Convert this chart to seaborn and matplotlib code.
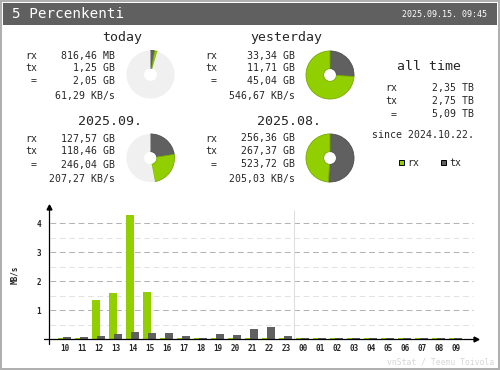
"""vnStat style summary image: totals, donuts and hourly bars."""

import matplotlib
matplotlib.use('Agg')
import matplotlib.pyplot as plt
import seaborn as sns
import numpy as np
import pandas as pd
from matplotlib.patches import Rectangle

# vnStat default colours
RX_COLOR = '#92cf00'
TX_COLOR = '#606060'
RX_EDGE = '#78aa00'
TX_EDGE = '#4e4e4e'
REST_COLOR = '#f0f0f0'
EDGE_COLOR = '#aeaeae'
MONO = 'DejaVu Sans Mono'

interface_name = '5 Percenkenti'
timestamp = '2025.09.15. 09:45'

# summary blocks
block_titles = ['today', 'yesterday', '2025.09.', '2025.08.']
block_rx = ['816,46 MB', '33,34 GB', '127,57 GB', '256,36 GB']
block_tx = ['1,25 GB', '11,71 GB', '118,46 GB', '267,37 GB']
block_total = ['2,05 GB', '45,04 GB', '246,04 GB', '523,72 GB']
block_rate = ['61,29 KB/s', '546,67 KB/s', '207,27 KB/s', '205,03 KB/s']

# same traffic in GB for the donuts, ref = previous period total (full circle)
donut_rx_gb = [0.7973, 33.34, 127.57, 256.36]
donut_tx_gb = [1.25, 11.71, 118.46, 267.37]
donut_ref_gb = [45.04, 45.04, 523.72, 523.72]

alltime_labels = ['rx', 'tx', ' =']
alltime_values = ['2,35 TB', '2,75 TB', '5,09 TB']
alltime_since = 'since 2024.10.22.'

# hourly average rate, MB/s
hours = ['10', '11', '12', '13', '14', '15', '16', '17', '18', '19', '20', '21',
         '22', '23', '00', '01', '02', '03', '04', '05', '06', '07', '08', '09']
hourly_rx = [0.04, 0.04, 1.37, 1.60, 4.29, 1.64, 0.04, 0.04, 0.04, 0.04, 0.04, 0.04,
             0.04, 0.04, 0.04, 0.04, 0.04, 0.04, 0.04, 0.04, 0.04, 0.04, 0.04, 0.04]
hourly_tx = [0.08, 0.08, 0.13, 0.20, 0.25, 0.22, 0.22, 0.13, 0.05, 0.18, 0.15, 0.36,
             0.43, 0.12, 0.04, 0.04, 0.04, 0.04, 0.04, 0.04, 0.04, 0.04, 0.04, 0.04]

# layout of the four blocks, in image pixels
block_title_xy = [(122, 41), (286, 41.5), (110, 125), (289, 125)]
block_label_x = [25, 205, 25, 205]
block_value_x = [115, 295, 115, 295]
block_rows_y = [[59.3, 71, 84.3, 98.7], [59.3, 71, 84.3, 98.7],
                [141.7, 154.3, 167.7, 182], [141.5, 154, 167.5, 182]]
donut_centers = [(150.5, 74.5), (330, 75), (150.5, 158), (330, 158)]
DONUT_R = 24.5
HOLE_R = 6.5

W, H = 500, 370

sns.set_theme(style='white')
plt.rcParams['font.family'] = [MONO, 'DejaVu Sans']

fig = plt.figure(figsize=(W / 100, H / 100), dpi=100)
fig.patch.set_facecolor('white')

# overlay axes in pixel coordinates for header, texts and frame
over = fig.add_axes([0, 0, 1, 1])
over.set_xlim(0, W)
over.set_ylim(H, 0)
over.axis('off')

over.add_patch(Rectangle((0.5, 0.5), W - 1.5, H - 1.5, fill=False,
                         edgecolor=EDGE_COLOR, linewidth=1.4))
over.add_patch(Rectangle((3, 3), 494, 22, facecolor='#606060', edgecolor='none'))
over.text(12, 14.5, interface_name, color='white', fontsize=10.3,
          ha='left', va='center')
over.text(487, 14.5, timestamp, color='white', fontsize=6,
          ha='right', va='center')

for i, title in enumerate(block_titles):
    tx_, ty_ = block_title_xy[i]
    over.text(tx_, ty_, title, fontsize=9.5, ha='center', va='baseline')
    rows = block_rows_y[i]
    for lab, val, y in zip(['rx', 'tx', ' ='],
                           [block_rx[i], block_tx[i], block_total[i]], rows[:3]):
        over.text(block_label_x[i], y, lab, fontsize=7.1, ha='left', va='baseline')
        over.text(block_value_x[i], y, val, fontsize=7.1, ha='right', va='baseline')
    over.text(block_value_x[i], rows[3], block_rate[i], fontsize=7.1,
              ha='right', va='baseline')

# all time block
over.text(429, 70, 'all time', fontsize=9.5, ha='center', va='baseline')
for lab, val, y in zip(alltime_labels, alltime_values, [91, 104, 117.5]):
    over.text(385, y, lab, fontsize=7.1, ha='left', va='baseline')
    over.text(474, y, val, fontsize=7.1, ha='right', va='baseline')
over.text(423.5, 138.3, alltime_since, fontsize=7.1, ha='center', va='baseline')

# legend
for x0, col, edge, lab in [(398.5, RX_COLOR, RX_EDGE, 'rx'),
                           (440.5, TX_COLOR, TX_EDGE, 'tx')]:
    over.add_patch(Rectangle((x0, 159.5), 5.5, 5.5, facecolor=col,
                             edgecolor='black', linewidth=0.7))
    over.text(x0 + 8.5, 166, lab, fontsize=7.1, ha='left', va='baseline')

over.text(494, 362, 'vnStat / Teemu Toivola', color='#d6d6d6', fontsize=5.9,
          ha='right', va='center')
over.text(15, 275, 'MB/s', fontsize=5.5, fontweight='bold', rotation=90,
          ha='center', va='center')

# donuts
for i, (cx, cy) in enumerate(donut_centers):
    pax = fig.add_axes([(cx - DONUT_R) / W, 1 - (cy + DONUT_R) / H,
                        2 * DONUT_R / W, 2 * DONUT_R / H])
    rest = max(donut_ref_gb[i] - donut_rx_gb[i] - donut_tx_gb[i], 0)
    wedges, _ = pax.pie([donut_tx_gb[i], donut_rx_gb[i], rest],
                        colors=[TX_COLOR, RX_COLOR, REST_COLOR],
                        startangle=90, counterclock=False, radius=1,
                        wedgeprops=dict(width=1 - HOLE_R / DONUT_R, linewidth=0))
    for w, ec in zip(wedges, [TX_EDGE, RX_EDGE, REST_COLOR]):
        w.set_edgecolor(ec)
        w.set_linewidth(0.6 if ec != REST_COLOR else 0)
    pax.set_xlim(-1.02, 1.02)
    pax.set_ylim(-1.02, 1.02)
    pax.axis('off')

# hourly chart: x = hour index, one index = 17 px, hour 10 centred at px 65
X0_PX, STEP_PX = 65, 17
BASE_PX, UNIT_PX = 339.3, 29.0
LEFT_PX, RIGHT_PX, TOP_PX = 48.7, 478, 205


def px_to_x(px):
    return (px - X0_PX) / STEP_PX


ax = fig.add_axes([LEFT_PX / W, 1 - BASE_PX / H,
                   (RIGHT_PX - LEFT_PX) / W, (BASE_PX - TOP_PX) / H])
ax.set_facecolor('none')

df = pd.DataFrame({'hour': hours, 'rx': hourly_rx, 'tx': hourly_tx})
idx = np.arange(len(df))
bar_w = 8 / STEP_PX

# grid lines first so bars sit on top
gx0, gx1 = px_to_x(50), px_to_x(472.7)
ax.hlines([0.5, 1.5, 2.5, 3.5], gx0, gx1, colors='#e2e2e2', linewidth=0.75,
          linestyles=(0, (5.5, 3.5)), zorder=0)
ax.hlines([1, 2, 3, 4], gx0, gx1, colors='#b4b4b4', linewidth=0.75,
          linestyles=(0, (5.5, 3.5)), zorder=0)
ax.vlines(px_to_x(294.3), 0, (BASE_PX - 210) / UNIT_PX, colors='#dedede',
          linewidth=0.75, zorder=0)

sns.barplot(x=idx - 3 / STEP_PX, y=df['rx'], native_scale=True, width=bar_w,
            color=RX_COLOR, saturation=1, linewidth=0, errorbar=None, ax=ax,
            zorder=2)
sns.barplot(x=idx + 2 / STEP_PX, y=df['tx'], native_scale=True, width=bar_w,
            color=TX_COLOR, saturation=1, linewidth=0, errorbar=None, ax=ax,
            zorder=3)

ax.set_xlim(px_to_x(LEFT_PX), px_to_x(RIGHT_PX))
ax.set_ylim(0, (BASE_PX - TOP_PX) / UNIT_PX)
for s in ax.spines.values():
    s.set_visible(False)

# axis lines with arrow heads
ax.plot([px_to_x(44), px_to_x(476)], [0, 0], color='black', linewidth=0.9,
        clip_on=False, zorder=4)
ax.plot([px_to_x(476)], [0], marker='>', color='black', markersize=3.5,
        clip_on=False, zorder=4)
ax.plot([px_to_x(LEFT_PX)] * 2, [-(344 - BASE_PX) / UNIT_PX, (BASE_PX - 207) / UNIT_PX],
        color='black', linewidth=0.9, clip_on=False, zorder=4)
ax.plot([px_to_x(LEFT_PX)], [(BASE_PX - 207) / UNIT_PX], marker='^', color='black',
        markersize=3.5, clip_on=False, zorder=4)

ax.set_xticks(idx)
ax.set_xticklabels(df['hour'])
ax.set_yticks([1, 2, 3, 4])
ax.set_yticklabels(['1', '2', '3', '4'])
ax.tick_params(axis='both', length=0, labelsize=5.5)
ax.tick_params(axis='x', pad=3.2)
ax.tick_params(axis='y', pad=5.5)
for lab in ax.get_xticklabels() + ax.get_yticklabels():
    lab.set_fontweight('bold')
ax.set_xlabel('')
ax.set_ylabel('')

fig.savefig('out.png', dpi=100)
